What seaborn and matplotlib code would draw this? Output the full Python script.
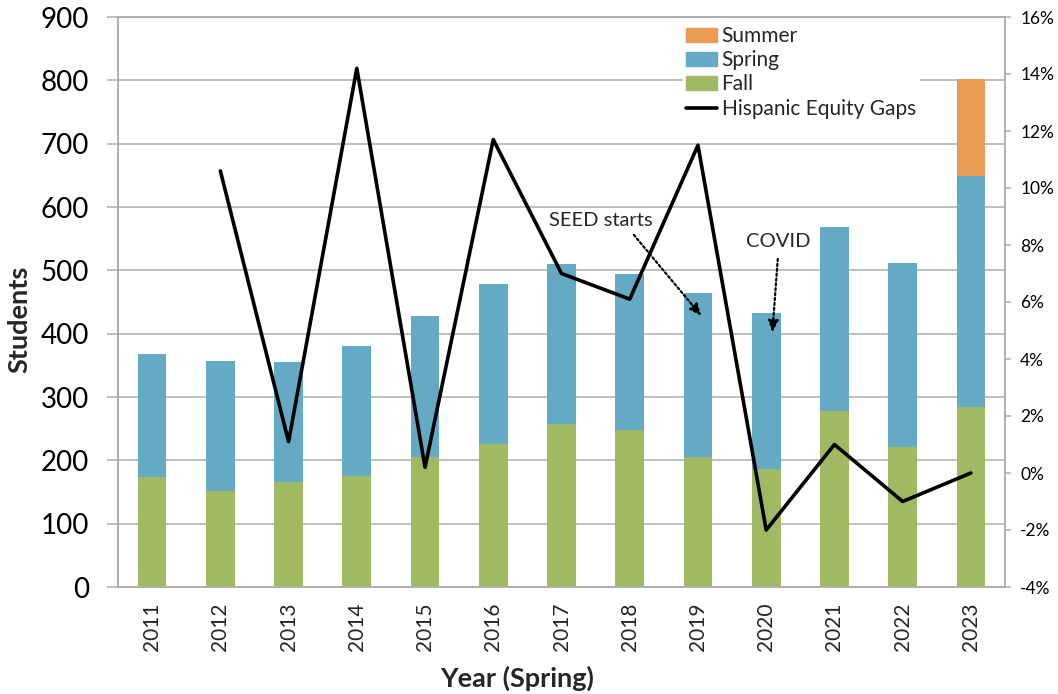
import numpy as np
import pandas as pd
import matplotlib
matplotlib.use("Agg")
import matplotlib.pyplot as plt
import seaborn as sns
from matplotlib.patches import Patch
from matplotlib.lines import Line2D

# ---- data ----
years = ["2011", "2012", "2013", "2014", "2015", "2016", "2017",
         "2018", "2019", "2020", "2021", "2022", "2023"]
fall = [173, 152, 166, 175, 205, 226, 257, 248, 205, 187, 278, 221, 284]
spring = [195, 205, 189, 205, 223, 252, 253, 246, 260, 245, 291, 291, 365]
summer = [0, 0, 0, 0, 0, 0, 0, 0, 0, 0, 0, 0, 153]
equity_gap = [np.nan, 10.6, 1.1, 14.2, 0.2, 11.7, 7.0, 6.1, 11.5, -2.0, 1.0, -1.0, 0.0]
left_ticks = [0, 100, 200, 300, 400, 500, 600, 700, 800, 900]
right_ticks = [-4, -2, 0, 2, 4, 6, 8, 10, 12, 14, 16]

C_FALL = "#9FBA63"
C_SPRING = "#64AAC4"
C_SUMMER = "#EC9B55"
GRID = "#ADADAD"

sns.set_style("white")
plt.rcParams["font.family"] = ["Lato", "DejaVu Sans"]

df = pd.DataFrame({"year": years, "fall": fall, "spring": spring,
                   "summer": summer, "gap": equity_gap})
df["fall_spring"] = df["fall"] + df["spring"]
df["total"] = df["fall_spring"] + df["summer"]
df["pos"] = np.arange(len(df))

fig = plt.figure(figsize=(10.58, 6.94), dpi=100)
ax = fig.add_axes([118 / 1058, 1 - 587 / 694, (1005 - 118) / 1058, (587 - 17) / 694])

bw = 0.42
sns.barplot(data=df, x="year", y="total", color=C_SUMMER, saturation=1,
            width=bw, linewidth=0, ax=ax)
sns.barplot(data=df, x="year", y="fall_spring", color=C_SPRING, saturation=1,
            width=bw, linewidth=0, ax=ax)
sns.barplot(data=df, x="year", y="fall", color=C_FALL, saturation=1,
            width=bw, linewidth=0, ax=ax)

ax.set_ylim(0, 900)
ax.set_xlim(-0.5, len(years) - 0.5)
ax.set_yticks(left_ticks)
ax.yaxis.grid(True, color=GRID, lw=1.1)
ax.set_axisbelow(True)
for s in ["left", "bottom", "top", "right"]:
    ax.spines[s].set_color(GRID)
    ax.spines[s].set_linewidth(1.1)
ax.tick_params(axis="y", which="major", length=8, width=1.1, color=GRID,
               direction="out", pad=13, labelsize=20, labelcolor="black")
ax.set_xticks(np.arange(len(years)))
ax.set_xticklabels(years, rotation=90)
ax.set_xticks(np.arange(len(years) + 1) - 0.5, minor=True)
ax.tick_params(axis="x", which="major", length=0, pad=11, labelsize=15)
ax.tick_params(axis="x", which="minor", length=8, width=1.1, color=GRID, direction="out")
ax.set_ylabel("Students", fontsize=19.5, fontweight="bold")
ax.yaxis.set_label_coords(-0.098, 0.47)
ax.set_xlabel("Year (Spring)", fontsize=19.5, fontweight="bold")
ax.xaxis.set_label_coords(0.45, -0.138)

# annotations
ax.text(6.58, 578, "SEED starts", fontsize=14.5, ha="center", va="center")
ax.annotate("", xy=(8.05, 428), xytext=(7.06, 556),
            arrowprops=dict(arrowstyle="-|>,head_length=0.7,head_width=0.3",
                            linestyle=(0, (1, 1.2)), lw=1.6, color="black",
                            shrinkA=0, shrinkB=0))
ax.text(9.18, 545, "COVID", fontsize=14.5, ha="center", va="center")
ax.annotate("", xy=(9.09, 402), xytext=(9.17, 518),
            arrowprops=dict(arrowstyle="-|>,head_length=0.7,head_width=0.3",
                            linestyle=(0, (1, 1.2)), lw=1.6, color="black",
                            shrinkA=0, shrinkB=0))

# right axis line
ax2 = ax.twinx()
sns.lineplot(data=df, x="pos", y="gap", color="black", lw=2.6, ax=ax2,
             sort=False)
ax2.set_ylim(-4, 16)
ax2.set_yticks(right_ticks)
ax2.set_yticklabels([f"{v}%" for v in right_ticks])
ax2.set_ylabel("")
ax2.set_xlabel("")
ax2.set_xlim(-0.5, len(years) - 0.5)
for s in ["left", "bottom", "top", "right"]:
    ax2.spines[s].set_color(GRID)
    ax2.spines[s].set_linewidth(1.1)
ax2.tick_params(axis="y", length=4, width=1.1, color=GRID, direction="out",
                pad=7, labelsize=12.5, labelcolor="black")

handles = [Patch(color=C_SUMMER), Patch(color=C_SPRING), Patch(color=C_FALL),
           Line2D([], [], color="black", lw=2.6)]
labels = ["Summer", "Spring", "Fall", "Hispanic Equity Gaps"]
leg = ax2.legend(handles, labels, loc="upper left",
                 bbox_to_anchor=(683 / 1058, 1 - 23 / 694),
                 bbox_transform=fig.transFigure, fontsize=15, frameon=True,
                 facecolor="white", edgecolor="white", framealpha=1,
                 fancybox=False, borderpad=0.15, borderaxespad=0,
                 handlelength=1.5, handleheight=0.62, handletextpad=0.2,
                 labelspacing=0.2)

fig.savefig("out.png", dpi=100)
